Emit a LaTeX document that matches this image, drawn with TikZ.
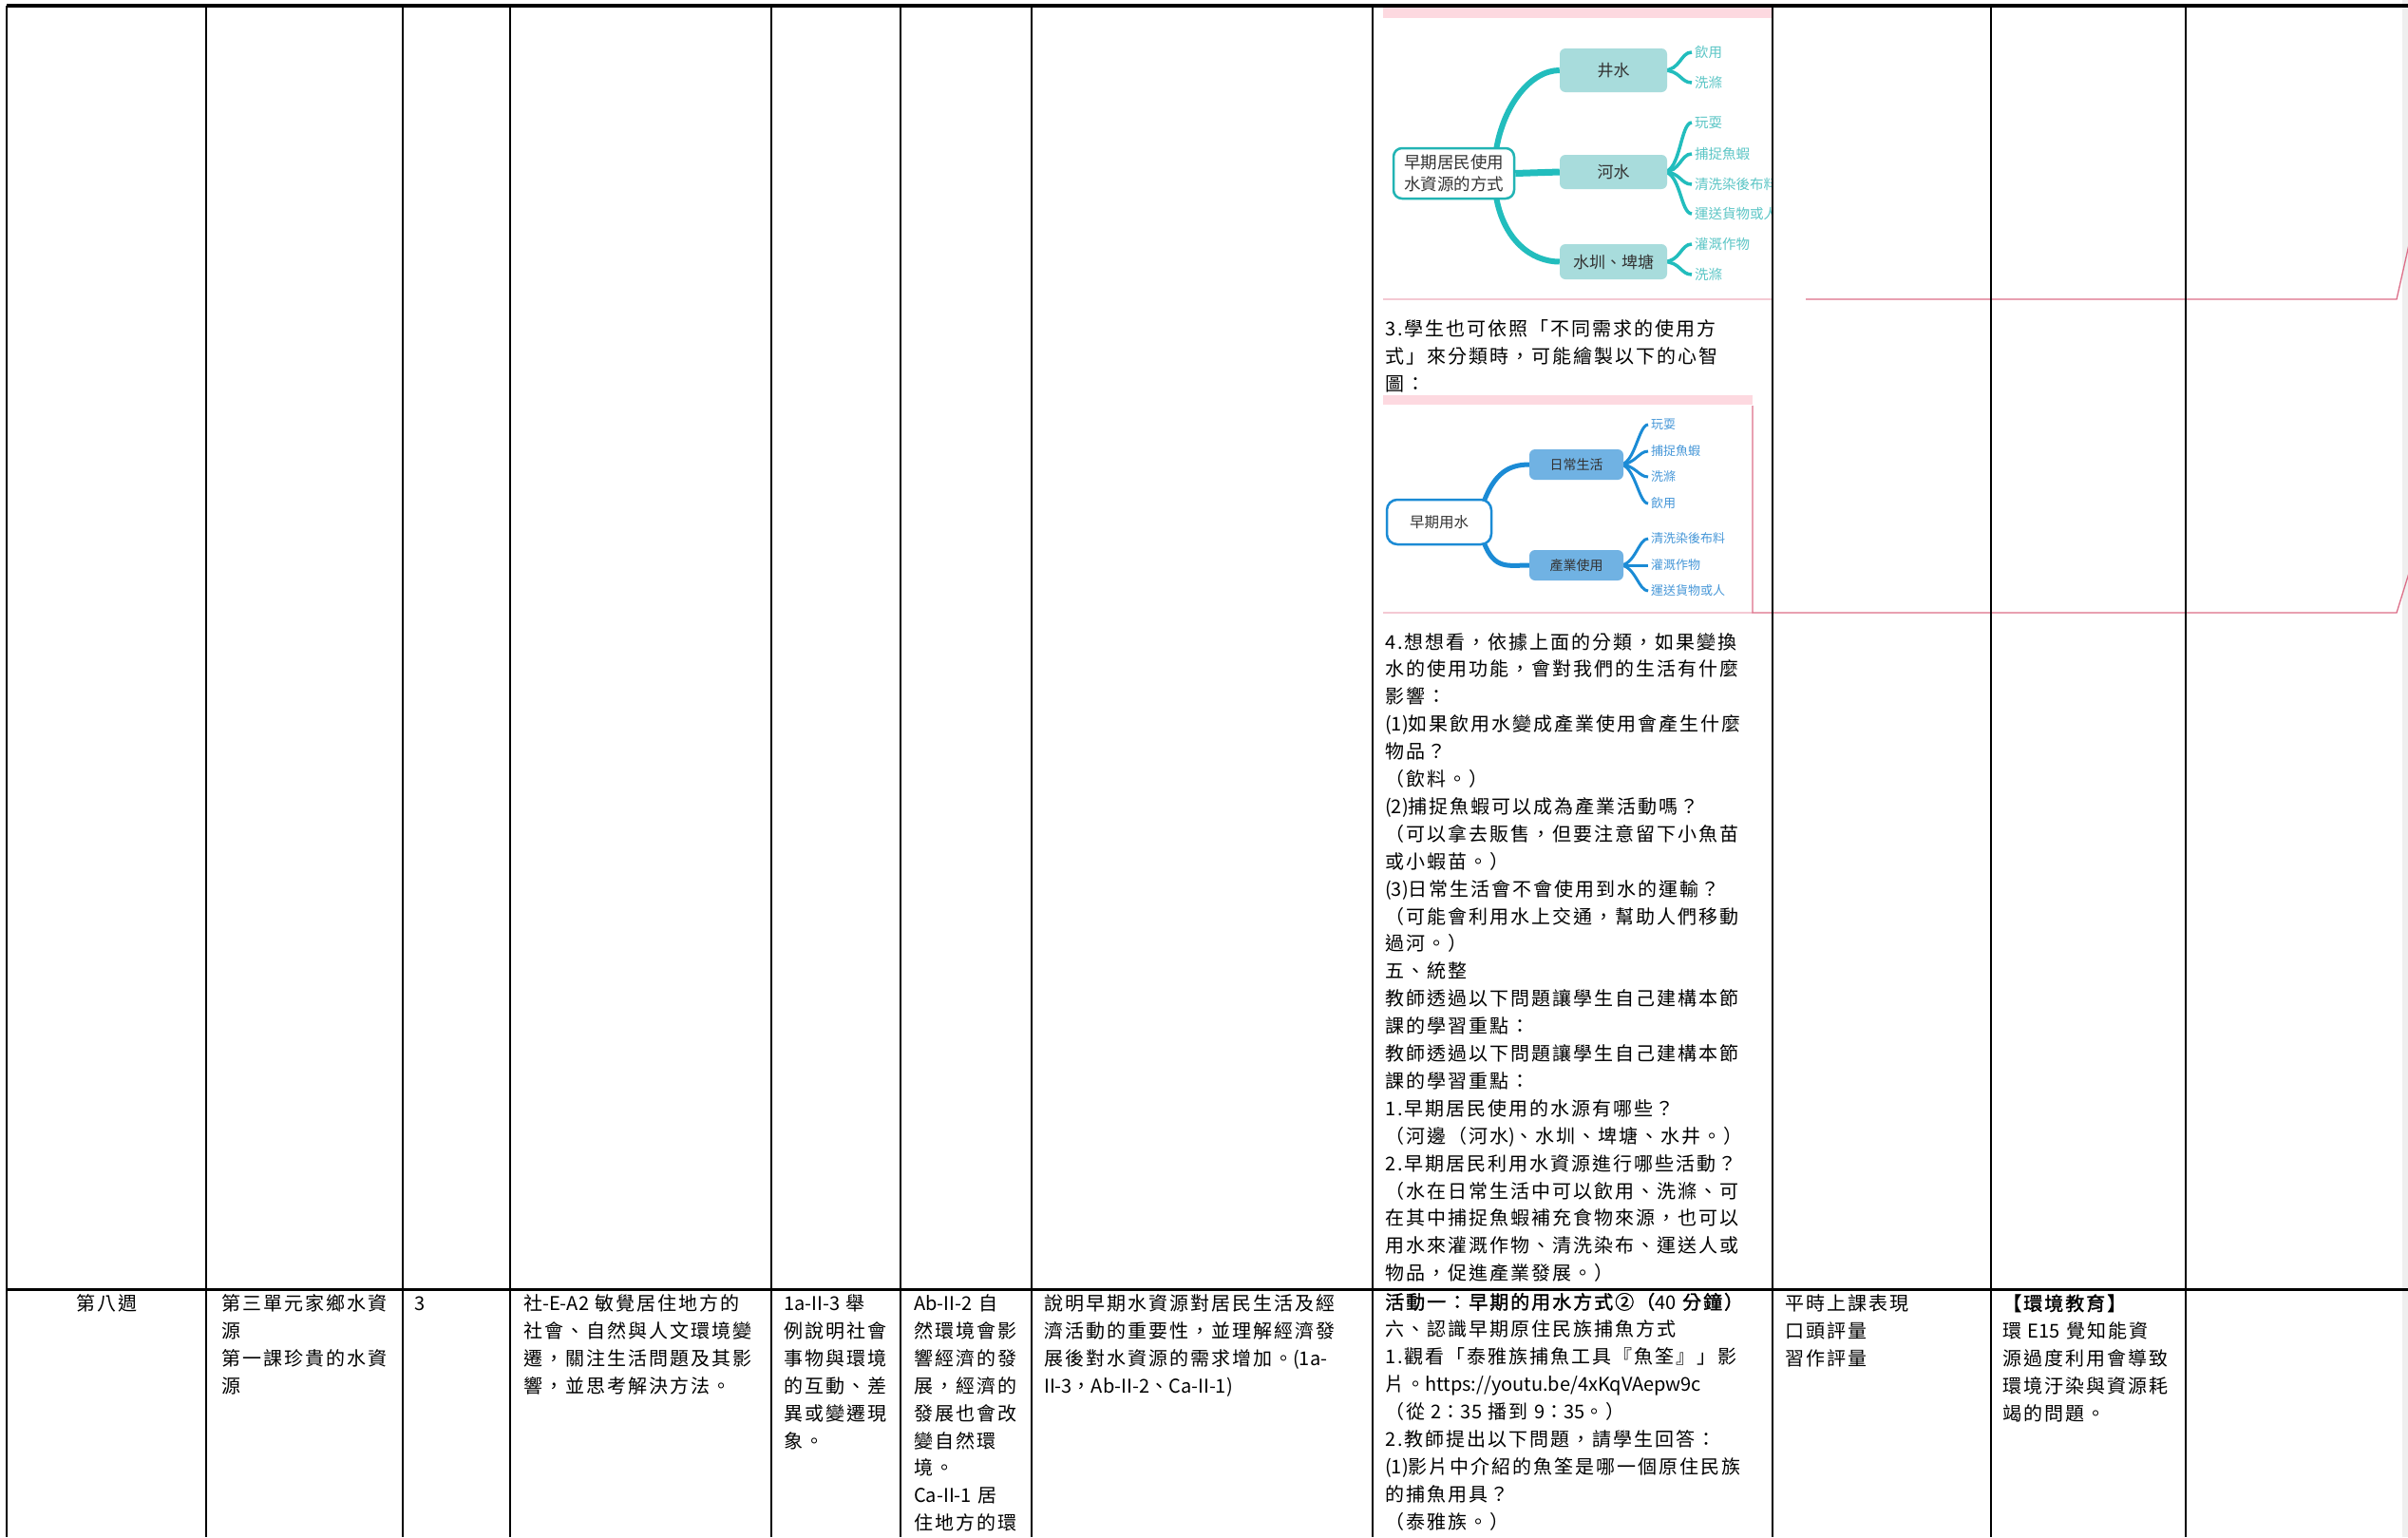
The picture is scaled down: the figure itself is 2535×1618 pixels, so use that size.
\documentclass[tikz,border=0pt]{standalone}
\usepackage{fontspec}
\usetikzlibrary{calc}
\setmainfont{Noto Sans CJK TC}
\newfontfamily\cjk[LetterSpace=10]{Noto Sans CJK TC}
\newfontfamily\cjkbold[LetterSpace=10,FakeBold=1.5]{Noto Sans CJK TC}
\newfontfamily\latf{Noto Sans CJK TC}
\newfontfamily\mmf{Noto Sans CJK TC}
\newcommand\lat[1]{{\latf #1}}
\newcommand\bodyfont{\cjk\fontsize{20}{28.9}\selectfont}
\newcommand\boldbody{\cjkbold\fontsize{20}{28.9}\selectfont}
\definecolor{tealBr}{HTML}{22BDBD}
\definecolor{tealRoot}{HTML}{22B4B4}
\definecolor{tealBox}{HTML}{A8DCDC}
\definecolor{tealLeaf}{HTML}{5CC6C6}
\definecolor{blueBr}{HTML}{1B8BD5}
\definecolor{blueBox}{HTML}{70B2E3}
\definecolor{blueLeaf}{HTML}{4697D8}
\definecolor{pinkBar}{HTML}{FDD9E0}
\definecolor{pinkLine}{HTML}{F4C9D3}
\definecolor{redLine}{HTML}{DC6E88}
\definecolor{stripGray}{HTML}{EFEFEF}
\pgfdeclarelayer{bg}
\pgfsetlayers{bg,main}
\tikzset{
  gridline/.style={line width=2.4pt, draw=black},
  txt/.style={anchor=base west, inner sep=0pt, align=left, text width=#1, font=\bodyfont},
  ctxt/.style={anchor=base, inner sep=0pt, font=\bodyfont},
  rootA/.style={draw=tealRoot, line width=2.5pt, fill=white, rounded corners=9pt, minimum width=127pt, minimum height=53pt, align=center, inner sep=0pt, text=black!80, font=\mmf\fontsize{17.5}{23}\selectfont},
  boxA/.style={fill=tealBox, rounded corners=6pt, minimum width=113pt, inner sep=0pt, text=black!80, font=\mmf\fontsize{17}{20}\selectfont},
  leafA/.style={anchor=west, inner xsep=3pt, inner ysep=0pt, text=tealLeaf, font=\mmf\fontsize{14.5}{16}\selectfont},
  brA/.style={draw=tealBr, line cap=butt},
  lbA/.style={draw=tealBr, line width=3.5pt, line cap=butt},
  rootB/.style={draw=blueBr, line width=2.5pt, fill=white, rounded corners=11pt, minimum width=110pt, minimum height=47pt, inner sep=0pt, text=black!80, font=\mmf\fontsize{15.5}{18}\selectfont},
  boxB/.style={fill=blueBox, rounded corners=6pt, minimum width=99pt, minimum height=32pt, inner sep=0pt, text=black!80, font=\mmf\fontsize{14}{16}\selectfont},
  leafB/.style={anchor=west, inner xsep=3pt, inner ysep=0pt, text=blueLeaf, font=\mmf\fontsize{13}{15}\selectfont},
  brB/.style={draw=blueBr, line width=5pt, line cap=butt},
  lbB/.style={draw=blueBr, line width=3pt, line cap=butt},
}
\begin{document}
\begin{tikzpicture}[x=1pt,y=-1pt]
\useasboundingbox (0,0) rectangle (2535,1618);
\begin{pgfonlayer}{bg}
  \fill[white] (0,0) rectangle (2535,1618);
  \fill[stripGray] (2529,0) rectangle (2535,1618);
  \fill[pinkBar] (1456,7) rectangle (1866,19);
  \fill[pinkBar] (1456,416) rectangle (1845,426);
\end{pgfonlayer}

% ---------- mind map 1 ----------
\begin{scope}
\clip (1446,0) rectangle (1864.5,330);
\node[rootA] (r1) at (1530.5,182.5) {早期居民使用\\水資源的方式};
\node[boxA, minimum height=46pt] (jing) at (1698.5,74) {井水};
\node[boxA, minimum height=36pt] (he) at (1698.5,181) {河水};
\node[boxA, minimum height=37pt] (zun) at (1698.5,275.5) {水圳、埤塘};
\node[leafA] (a1) at (1781,55) {飲用};
\node[leafA] (a2) at (1781,87) {洗滌};
\node[leafA] (a3) at (1781,129) {玩耍};
\node[leafA] (a4) at (1781,162) {捕捉魚蝦};
\node[leafA] (a5) at (1781,194) {清洗染後布料};
\node[leafA] (a6) at (1781,225) {運送貨物或人};
\node[leafA] (a7) at (1781,257) {灌溉作物};
\node[leafA] (a8) at (1781,289) {洗滌};
\begin{pgfonlayer}{bg}
  \draw[brA, line width=6pt] ($(r1.north east)+(-20,2)$) .. controls ($(r1.north east)+(-12,-45)$) and ($(jing.west)+(-30,0)$) .. (jing.west);
  \draw[brA, line width=7pt] (r1.east) -- (he.west);
  \draw[brA, line width=6pt] ($(r1.south east)+(-20,-2)$) .. controls ($(r1.south east)+(-12,42)$) and ($(zun.west)+(-30,0)$) .. (zun.west);
  \foreach \b/\l in {jing/a1,jing/a2,he/a3,he/a4,he/a5,he/a6,zun/a7,zun/a8}
    \draw[lbA] ($(\b.east)+(-4,0)$) .. controls ($(\b.east)+(14,0)$) and ($(\l.west)+(-12,0)$) .. (\l.west);
\end{pgfonlayer}
\end{scope}

% ---------- mind map 2 ----------
\node[rootB] (r2) at (1515,549.5) {早期用水};
\node[boxB] (daily) at (1659.5,489) {日常生活};
\node[boxB] (ind) at (1659.5,595) {產業使用};
\node[leafB] (b1) at (1735,447) {玩耍};
\node[leafB] (b2) at (1735,475) {捕捉魚蝦};
\node[leafB] (b3) at (1735,502) {洗滌};
\node[leafB] (b4) at (1735,530) {飲用};
\node[leafB] (b5) at (1735,567) {清洗染後布料};
\node[leafB] (b6) at (1735,595) {灌溉作物};
\node[leafB] (b7) at (1735,622) {運送貨物或人};
\begin{pgfonlayer}{bg}
  \draw[brB] ($(r2.north east)+(-9,3)$) .. controls ($(r2.north east)+(2,-26)$) and ($(daily.west)+(-22,0)$) .. (daily.west);
  \draw[brB] ($(r2.south east)+(-9,-3)$) .. controls ($(r2.south east)+(2,26)$) and ($(ind.west)+(-22,0)$) .. (ind.west);
  \foreach \b/\l in {daily/b1,daily/b2,daily/b3,daily/b4,ind/b5,ind/b6,ind/b7}
    \draw[lbB] ($(\b.east)+(-4,0)$) .. controls ($(\b.east)+(12,0)$) and ($(\l.west)+(-10,0)$) .. (\l.west);
\end{pgfonlayer}

% ---------- pink / red lines ----------
\draw[pinkLine, line width=1.5pt] (1456,315) -- (1866,315);
\draw[redLine, line width=1.3pt] (1901,315) -- (2523,315) -- (2537,253);
\draw[pinkLine, line width=1.5pt] (1456,645) -- (1845,645);
\draw[redLine, line width=1.3pt] (1845,427) -- (1845,645) -- (2523,645) -- (2537,600);

% ---------- table grid ----------
\draw[gridline, line width=3.5pt] (7,6) -- (2535,6);
\draw[gridline, line width=3pt] (7,1357) -- (2535,1357);
\foreach \x in {7,217,424,537,812,948,1086,1445,1866,2096,2301}
  \draw[gridline] (\x,6) -- (\x,1618);

% ---------- column 8, upper row ----------
\node[txt=420pt] (t3) at (1458,353.6) {3.學生也可依照「不同需求的使用方\\式」來分類時，可能繪製以下的心智\\圖：};
\node[txt=420pt] (t4) at (1458,683) {4.想想看，依據上面的分類，如果變換\\
水的使用功能，會對我們的生活有什麼\\
影響：\\
\lat{(1)}如果飲用水變成產業使用會產生什麼\\
物品？\\
（飲料。）\\
\lat{(2)}捕捉魚蝦可以成為產業活動嗎？\\
（可以拿去販售，但要注意留下小魚苗\\
或小蝦苗。）\\
\lat{(3)}日常生活會不會使用到水的運輸？\\
（可能會利用水上交通，幫助人們移動\\
過河。）\\
五、統整\\
教師透過以下問題讓學生自己建構本節\\
課的學習重點：\\
教師透過以下問題讓學生自己建構本節\\
課的學習重點：\\
1.早期居民使用的水源有哪些？\\
（河邊（河水\lat{)}、水圳、埤塘、水井。）\\
2.早期居民利用水資源進行哪些活動？\\
（水在日常生活中可以飲用、洗滌、可\\
在其中捕捉魚蝦補充食物來源，也可以\\
用水來灌溉作物、清洗染布、運送人或\\
物品，促進產業發展。）};

% ---------- lower row ----------
\node[ctxt] (w8) at (112,1379.5) {第八週};
\node[txt=200pt] (unit) at (233,1379.5) {第三單元家鄉水資\\源\\第一課珍貴的水資\\源};
\node[txt=80pt] (hrs) at (436,1379.5) {\lat{3}};
\node[txt=280pt] (core) at (551,1379.5) {社\lat{-E-A2 }敏覺居住地方的\\社會、自然與人文環境變\\遷，關注生活問題及其影\\響，並思考解決方法。};
\node[txt=140pt] (perf) at (825,1379.5) {\lat{1a-II-3 }舉\\例說明社會\\事物與環境\\的互動、差\\異或變遷現\\象。};
\node[txt=140pt] (cont) at (962,1379.5) {\lat{Ab-II-2 }自\\然環境會影\\響經濟的發\\展，經濟的\\發展也會改\\變自然環\\境。\\\lat{Ca-II-1 }居\\住地方的環};
\node[txt=360pt] (goal) at (1099,1379.5) {說明早期水資源對居民生活及經\\濟活動的重要性，並理解經濟發\\展後對水資源的需求增加。\lat{(1a-}\\\lat{II-3}，\lat{Ab-II-2}、\lat{Ca-II-1)}};
\node[txt=420pt] (act) at (1458,1378) {{\boldbody 活動一：早期的用水方式②（\lat{40 }分鐘）}\\
六、認識早期原住民族捕魚方式\\
1.觀看「泰雅族捕魚工具『魚筌』」影\\
片。\lat{https://youtu.be/4xKqVAepw9c}\\
（從\lat{ 2}：\lat{35 }播到\lat{ 9}：\lat{35}。）\\
2.教師提出以下問題，請學生回答：\\
\lat{(1)}影片中介紹的魚筌是哪一個原住民族\\
的捕魚用具？\\
（泰雅族。）};
\node[txt=220pt] (eval) at (1879,1379.5) {平時上課表現\\口頭評量\\習作評量};
\node[txt=200pt] (issue) at (2108,1379.5) {{\boldbody 【環境教育】}\\環\lat{ E15 }覺知能資\\源過度利用會導致\\環境汙染與資源耗\\竭的問題。};
\end{tikzpicture}
\end{document}
